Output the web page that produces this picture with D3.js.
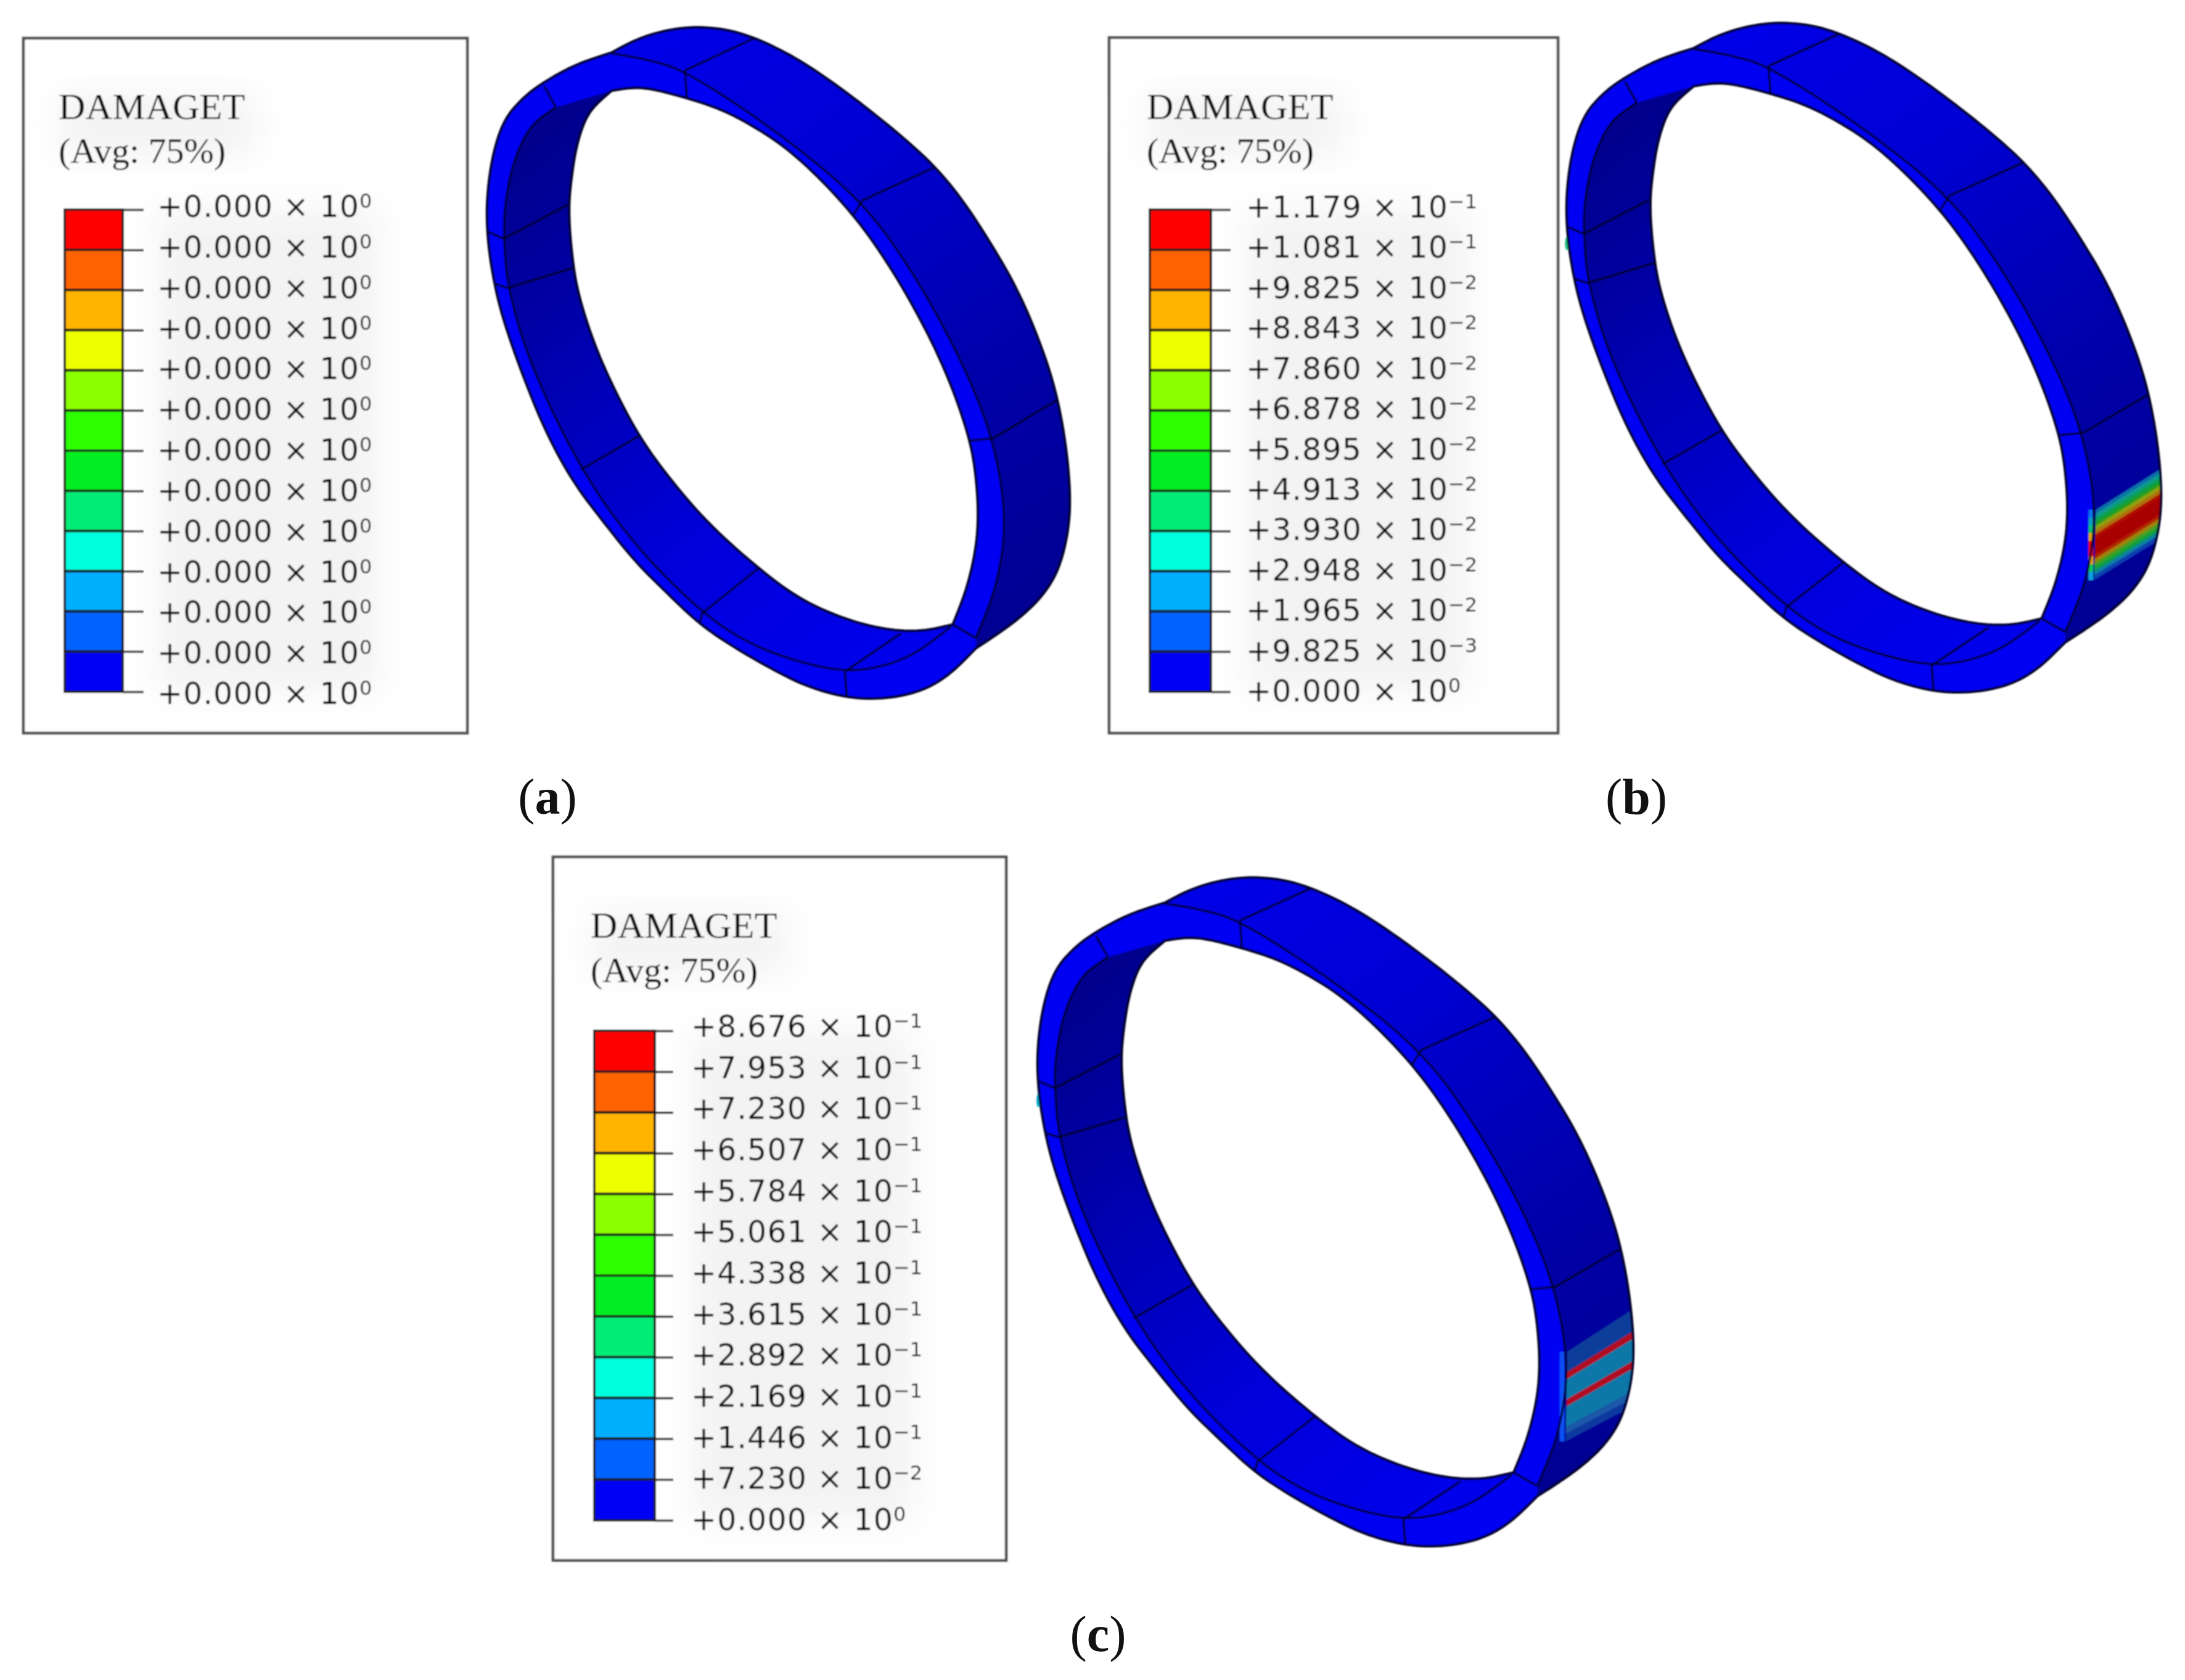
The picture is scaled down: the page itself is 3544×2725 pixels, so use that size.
<!DOCTYPE html>
<html><head><meta charset="utf-8">
<style>html,body{margin:0;padding:0;background:#fff}svg{display:block}</style>
<script src="https://cdn.jsdelivr.net/npm/d3@7"></script></head><body><svg id="c" width="3544" height="2725"></svg>
<script>
// legend data
const bandColors=["#ff0000","#ff6400","#ffb400","#eeff00","#8cff00","#2eff00","#00ee22","#00ee77","#00ffdd","#00b0ff","#0064ff","#0000f5"];
const labelsA=Array(13).fill(["+0.000","0"]);
const labelsB=[["+1.179","−1"],["+1.081","−1"],["+9.825","−2"],["+8.843","−2"],["+7.860","−2"],["+6.878","−2"],["+5.895","−2"],["+4.913","−2"],["+3.930","−2"],["+2.948","−2"],["+1.965","−2"],["+9.825","−3"],["+0.000","0"]];
const labelsC=[["+8.676","−1"],["+7.953","−1"],["+7.230","−1"],["+6.507","−1"],["+5.784","−1"],["+5.061","−1"],["+4.338","−1"],["+3.615","−1"],["+2.892","−1"],["+2.169","−1"],["+1.446","−1"],["+7.230","−2"],["+0.000","0"]];
const legendTitle="DAMAGET", legendSub="(Avg: 75%)";
// ring geometry in reference units
const outerA=[[340,90],[400,62],[470,42],[550,32],[640,38],[720,60],[810,98],[900,148],[1000,212],[1100,282],[1180,345],[1250,418],[1320,510],[1385,605],[1440,710],[1487,825],[1515,940],[1530,1060],[1527,1150],[1502,1240],[1460,1300],[1400,1350],[1330,1393],[1285,1418]];
const outerB=[[1285,1418],[1220,1475],[1150,1512],[1060,1530],[960,1530],[850,1505],[750,1462],[650,1412],[565,1362],[480,1292],[400,1224],[320,1138],[240,1048],[170,938],[110,812],[60,690],[35,605],[18,510],[15,420],[30,320],[60,240],[110,190],[165,155],[250,115],[340,90]];
const holeRight=[[1225,1365],[1260,1290],[1285,1200],[1292,1120],[1285,1030],[1270,955],[1230,850],[1175,740],[1100,620],[1030,525],[965,450],[880,370],[790,300],[700,250],[620,215],[530,190],[440,170],[390,168],[340,175]];
const holeLeft=[[340,175],[280,220],[250,290],[235,370],[228,440],[235,530],[250,620],[290,730],[340,830],[410,945],[490,1040],[590,1140],[720,1240],[830,1310],[950,1355],[1060,1378],[1150,1380],[1225,1365]];
const rimBack=[[340,92],[430,105],[530,130],[760,260],[990,420],[1130,590],[1250,780],[1330,950],[1365,1130],[1340,1280],[1285,1395]];
const rimFront=[[195,212],[130,250],[85,330],[62,430],[60,505],[70,615],[130,790],[260,1020],[400,1190],[575,1340],[700,1410],[830,1450],[945,1470],[1040,1460],[1130,1430],[1220,1370]];
const meshLines=[[[530,130],[710,58]],[[990,420],[1180,345]],[[1330,950],[1495,865]],[[60,505],[225,430]],[[70,615],[240,570]],[[260,1020],[410,945]],[[575,1340],[720,1240]],[[945,1470],[1090,1385]],[[165,165],[195,212]],[[530,130],[535,190]],[[990,420],[965,455]],[[1330,950],[1270,955]],[[1225,1365],[1285,1395]],[[945,1470],[950,1525]],[[575,1340],[568,1362]],[[60,505],[20,490]],[[70,615],[35,605]]];
// damage zones in ring units
const zoneB={lt:[1364,1122],lb:[1359,1278],rt:[1530,1030],rb:[1530,1185],
 colors:["#0a70a8","#0a9a90","#0aa050","#20a020","#90a010","#b07010","#b01000","#a80000","#a80000","#a80000","#a80000","#b02000","#a08010","#40a020","#10a040","#0a80a0","#0a40b0"]};
const stripBColors=["#0a70f0","#10a0c0","#10c070","#e0a010","#e80000","#f00000","#e0a010","#10c060","#10a0e0"];
const zoneC={lt:[1362,1095],lb:[1358,1294],rt:[1530,999],rb:[1530,1215],
 colors:["#0a3c9a","#0a3c9a","#0a3c9a","#b01020","#0a78a8","#0a78a8","#0a78a8","#b01020","#0a78a8","#0a78a8","#0a78a8","#1a58a8","#1038a0"]};
const stripCColors=["#0a50f4"];
const wallStops=[["0%","#0000e6"],["30%","#0000d2"],["62%","#0000ae"],["100%","#000092"]];
const innerStops=[["0%","#00008c"],["22%","#0000a4"],["45%","#0000c0"],["70%","#0000dc"],["100%","#0000ea"]];
const rimColor="#0000f2";
// panel layout
const panels=[
 {key:"a",labels:labelsA,box:[38,62,758,1189],bar:[105,199,233,255],barY:[340,1122],labelY:[334,1124],title:[95,193,264],ring:[789,1736,43,1133],cap:[888,1320],zone:null},
 {key:"b",labels:labelsB,box:[1799,61,2527,1189],bar:[1865,1964,1996,2021],barY:[340,1122],labelY:[335,1120],title:[1860,193,264],ring:[2540,3506,36,1123],cap:[2654,1320],zone:zoneB,strip:stripBColors,blob:[17,527,"#20c080"]},
 {key:"c",labels:labelsC,box:[897,1390,1632,2531],bar:[964,1062,1092,1121],barY:[1672,2466],labelY:[1664,2464],title:[958,1521,1593],ring:[1682,2650,1422,2508],cap:[1781,2678],zone:zoneC,strip:stripCColors,blob:[18,533,"#10b0d0"]}];
const svg=d3.select("#c");
const defs=svg.append("defs");
function blur(id,s){defs.append("filter").attr("id",id).attr("x","-30%").attr("y","-30%").attr("width","160%").attr("height","160%").append("feGaussianBlur").attr("stdDeviation",s);}
blur("soft",1.3);blur("halo",28);
const straight=d3.line();
function smooth(a,n=3){let p=a;for(let k=0;k<n;k++){const q=[p[0]];for(let i=0;i<p.length-1;i++){const [x0,y0]=p[i],[x1,y1]=p[i+1];
  if(i>0)q.push([.75*x0+.25*x1,.75*y0+.25*y1]);
  if(i<p.length-2)q.push([.25*x0+.75*x1,.25*y0+.75*y1]);}
  q.push(p[p.length-1]);p=q;}return p;}
function grad(id,x1,y1,x2,y2,stops){const g=defs.append("linearGradient").attr("id",id).attr("gradientUnits","userSpaceOnUse").attr("x1",x1).attr("y1",y1).attr("x2",x2).attr("y2",y2);
 stops.forEach(s=>g.append("stop").attr("offset",s[0]).attr("stop-color",s[1]));}
panels.forEach(p=>{
 const root=svg.append("g").attr("filter","url(#soft)");
 // legend box
 const [bx0,by0,bx1,by1]=p.box;
 root.append("rect").attr("x",bx0).attr("y",by0).attr("width",bx1-bx0).attr("height",by1-by0).attr("fill","#fff").attr("stroke","#505050").attr("stroke-width",4.5);
 root.append("rect").attr("x",p.title[0]).attr("y",p.title[1]-40).attr("width",320).attr("height",100).attr("fill","#f3f3f3").attr("filter","url(#halo)");
 root.append("rect").attr("x",p.bar[3]).attr("y",p.barY[0]).attr("width",360).attr("height",p.barY[1]-p.barY[0]).attr("fill","#f3f3f3").attr("filter","url(#halo)");
 const tt=root.append("g").attr("font-family","Liberation Serif").attr("fill","#111");
 tt.append("text").attr("x",p.title[0]).attr("y",p.title[1]).attr("font-size",60).attr("letter-spacing",.4).text(legendTitle);
 tt.append("text").attr("x",p.title[0]).attr("y",p.title[2]).attr("font-size",58).text(legendSub);
 // colour bar
 const bandY=d3.scaleBand().domain(d3.range(bandColors.length)).range(p.barY).paddingInner(0);
 root.append("g").selectAll("rect").data(bandColors).join("rect").attr("x",p.bar[0]).attr("width",p.bar[1]-p.bar[0]).attr("y",(d,i)=>bandY(i)).attr("height",bandY.bandwidth()).attr("fill",d=>d).attr("stroke","#1a1a1a").attr("stroke-width",4);
 // ticks
 const tickY=d3.scalePoint().domain(d3.range(p.labels.length)).range(p.barY);
 const tg=root.append("g").attr("transform",`translate(${p.bar[1]},0)`).call(d3.axisRight(tickY).tickSize(p.bar[2]-p.bar[1]).tickFormat(""));
 tg.select(".domain").remove();
 tg.selectAll("line").attr("stroke","#222").attr("stroke-width",3.5);
 // labels
 const labY=d3.scalePoint().domain(d3.range(p.labels.length)).range(p.labelY);
 const lab=root.append("g").selectAll("text").data(p.labels).join("text").attr("x",p.bar[3]).attr("y",(d,i)=>labY(i)+18)
   .attr("font-family","DejaVu Sans").attr("font-size",49).attr("fill","#111");
 lab.append("tspan").text(d=>d[0]+" × 10").attr("letter-spacing",1.1);
 lab.append("tspan").attr("dy",-15).attr("font-size",32).text(d=>d[1]);
 // ring
 const x=d3.scaleLinear().domain([15,1530]).range(p.ring.slice(0,2));
 const y=d3.scaleLinear().domain([32,1530]).range(p.ring.slice(2,4));
 const P=a=>a.map(d=>[x(d[0]),y(d[1])]);
 const r=root.append("g");
 grad("wall"+p.key,x(500),y(60),x(1500),y(1300),wallStops);
 grad("inner"+p.key,x(100),y(300),x(1100),y(1400),innerStops);
 const sA=smooth(outerA),sB=smooth(outerB),hR=smooth(holeRight),hL=smooth(holeLeft),rB=smooth(rimBack),rF=smooth(rimFront);
 const outerPath=straight(P(sA.concat(sB)))+"Z", holePath=straight(P(hR.concat(hL)))+"Z";
 r.append("path").attr("d",outerPath+holePath).attr("fill",rimColor).attr("fill-rule","evenodd");
 const wallPath=straight(P(rB.concat(sA.slice().reverse())))+"Z";
 r.append("path").attr("d",wallPath).attr("fill",`url(#wall${p.key})`);
 r.append("path").attr("d",straight(P(rF.concat(hL.slice().reverse())))+"Z").attr("fill",`url(#inner${p.key})`);
 // damage zone
 if(p.zone){
  const z=p.zone,clipId="wc"+p.key;
  defs.append("clipPath").attr("id",clipId).append("path").attr("d",wallPath);
  const n=z.colors.length;
  const lerp=(a,b,t)=>a+(b-a)*t;
  const strip=d3.range(n).map(i=>{const t0=i/n,t1=(i+1)/n;
    return [[lerp(z.lt[0],z.lb[0],t0),lerp(z.lt[1],z.lb[1],t0)],[lerp(z.rt[0],z.rb[0],t0),lerp(z.rt[1],z.rb[1],t0)],[lerp(z.rt[0],z.rb[0],t1),lerp(z.rt[1],z.rb[1],t1)],[lerp(z.lt[0],z.lb[0],t1),lerp(z.lt[1],z.lb[1],t1)]];});
  r.append("g").attr("clip-path",`url(#${clipId})`).selectAll("path").data(strip).join("path").attr("d",d=>straight(P(d))+"Z").attr("fill",(d,i)=>z.colors[i]).attr("stroke",(d,i)=>z.colors[i]).attr("stroke-width",1);
  const sx0=z.lt[0]-20,sx1=z.lt[0]-8,sc=p.strip,m=sc.length;
  r.append("g").selectAll("rect").data(sc).join("rect").attr("x",x(sx0)).attr("width",x(sx1)-x(sx0))
   .attr("y",(d,i)=>y(lerp(z.lt[1],z.lb[1],i/m))).attr("height",y(z.lb[1])/m-y(z.lt[1])/m+1).attr("fill",d=>d);
 }
 if(p.blob){r.append("ellipse").attr("cx",x(p.blob[0])).attr("cy",y(p.blob[1])).attr("rx",3).attr("ry",11).attr("fill",p.blob[2]);}
 // outlines
 const ink=r.append("g").attr("fill","none").attr("stroke","#00002a").attr("stroke-linejoin","round");
 ink.append("path").attr("d",outerPath).attr("stroke-width",4);
 ink.append("path").attr("d",holePath).attr("stroke-width",4);
 ink.append("path").attr("d",straight(P(rB))).attr("stroke-width",3.4);
 ink.append("path").attr("d",straight(P(rF))).attr("stroke-width",3.4);
 ink.selectAll("path.mesh").data(meshLines).join("path").attr("class","mesh").attr("d",d=>straight(P(d))).attr("stroke-width",3.4);
 // caption
 const cap=svg.append("text").attr("x",p.cap[0]).attr("y",p.cap[1]).attr("text-anchor","middle").attr("font-family","Liberation Serif").attr("font-size",82).attr("fill","#111");
 cap.append("tspan").text("(");cap.append("tspan").attr("font-weight","bold").text(p.key);cap.append("tspan").text(")");
});
</script></body></html>
